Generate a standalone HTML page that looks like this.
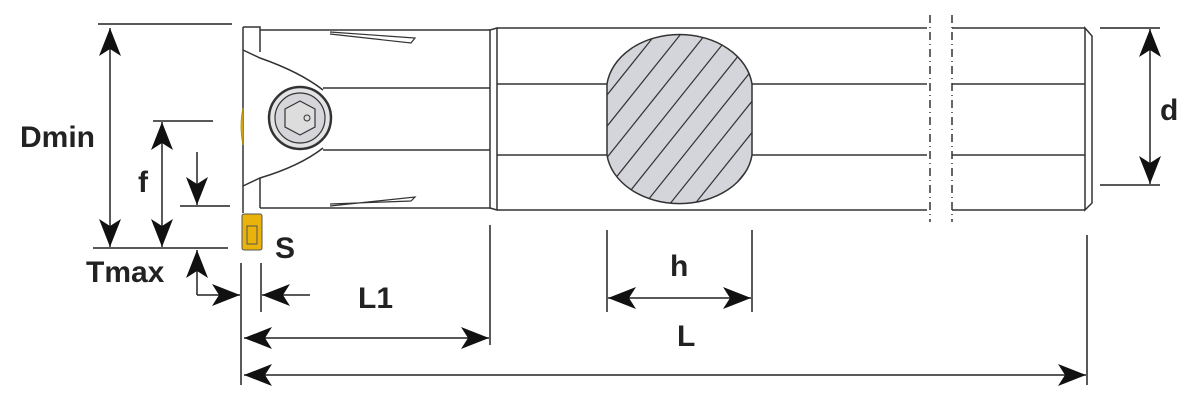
<!DOCTYPE html>
<html><head><meta charset="utf-8"><style>
html,body{margin:0;padding:0;background:#fff;}
svg{display:block;}
text{font-family:"Liberation Sans Narrow","Liberation Sans",sans-serif;font-weight:bold;font-size:30px;fill:#222;}
</style></head><body>
<svg width="1198" height="400" viewBox="0 0 1198 400" xmlns="http://www.w3.org/2000/svg">
<defs>
<marker id="a" viewBox="0 0 28 22" refX="28" refY="11" markerWidth="28" markerHeight="22" markerUnits="userSpaceOnUse" orient="auto-start-reverse"><path d="M0,0 L28,11 L0,22 L7,11 Z" fill="#111"/></marker>
<clipPath id="ec"><path d="M607,84 A73,56 0 0 1 752,84 L752,155 A73,55 0 0 1 607,155 Z"/></clipPath>
</defs>
<g stroke="#333" stroke-width="1.5" fill="none">
<line x1="243" y1="27" x2="243" y2="213"/>
<path d="M243,27 L260,27 L260,52"/>
<path d="M243,50 L260,58 Q300,72 323,90"/>
<path d="M323,148 Q300,166 260,178 L243,186"/>
<line x1="260" y1="178" x2="260" y2="208"/>
<line x1="260" y1="30" x2="490" y2="30"/>
<line x1="323" y1="88" x2="490" y2="88"/>
<line x1="323" y1="150" x2="490" y2="150"/>
<line x1="260" y1="208" x2="490" y2="208"/>
<path d="M330,32 L415,38 L411,43 L330,34" stroke-width="1.2"/>
<path d="M330,206 L415,197 L411,201 L330,204" stroke-width="1.2"/>
<path d="M490,30 L497,28 L497,210 L490,208 Z"/>
<line x1="497" y1="28" x2="927" y2="28"/>
<line x1="497" y1="210" x2="927" y2="210"/>
<line x1="497" y1="84" x2="927" y2="84"/>
<line x1="497" y1="155" x2="927" y2="155"/>
<line x1="952" y1="28" x2="1085" y2="28"/>
<line x1="952" y1="210" x2="1085" y2="210"/>
<line x1="952" y1="84" x2="1085" y2="84"/>
<line x1="952" y1="155" x2="1085" y2="155"/>
<path d="M1085,28 L1092,36 L1092,203 L1085,210 Z"/>
</g>
<g stroke="#333" stroke-width="1.5" stroke-dasharray="8,4,1,4">
<line x1="930" y1="15" x2="930" y2="222"/>
<line x1="952" y1="15" x2="952" y2="222"/>
</g>
<path d="M607,84 A73,56 0 0 1 752,84 L752,155 A73,55 0 0 1 607,155 Z" fill="#d4d5db" stroke="#333" stroke-width="1.5"/>
<g clip-path="url(#ec)" stroke="#333" stroke-width="1.2">
<line x1="540" y1="210" x2="700" y2="10"/><line x1="565" y1="210" x2="725" y2="10"/>
<line x1="590" y1="210" x2="750" y2="10"/><line x1="615" y1="210" x2="775" y2="10"/>
<line x1="640" y1="210" x2="800" y2="10"/><line x1="665" y1="210" x2="825" y2="10"/>
<line x1="690" y1="210" x2="850" y2="10"/><line x1="715" y1="210" x2="875" y2="10"/>
<line x1="515" y1="210" x2="675" y2="10"/>
</g>
<circle cx="300" cy="118" r="31" fill="#e3e3e6" stroke="#333" stroke-width="2.5"/>
<circle cx="300" cy="118" r="25" fill="#d6d6da" stroke="#333" stroke-width="1.2"/>
<polygon points="300,101 315,109 315,127 300,135 285,127 285,109" fill="#ddd" stroke="#333" stroke-width="1.2"/>
<circle cx="307" cy="118" r="3" fill="none" stroke="#333"/>
<rect x="242" y="214" width="20" height="36" rx="2" fill="#e9b30c" stroke="#555" stroke-width="1"/>
<rect x="247" y="226" width="10" height="18" fill="none" stroke="#555" stroke-width="1"/>
<path d="M243,108 Q239,126 243,145 Z" fill="#e9b30c" stroke="#a80" stroke-width="0.8"/>
<g stroke="#222" stroke-width="1.5" fill="none">
<line x1="98" y1="24" x2="232" y2="24"/>
<line x1="93" y1="248" x2="228" y2="248"/>
<line x1="110" y1="28" x2="110" y2="247" marker-start="url(#a)" marker-end="url(#a)"/>
<line x1="153" y1="121" x2="213" y2="121"/>
<line x1="162" y1="122" x2="162" y2="247" marker-start="url(#a)" marker-end="url(#a)"/>
<line x1="180" y1="206" x2="230" y2="206"/>
<line x1="197" y1="152" x2="197" y2="205" marker-end="url(#a)"/>
<line x1="197" y1="295" x2="197" y2="250" marker-end="url(#a)"/>
<line x1="197" y1="295" x2="240" y2="295" marker-end="url(#a)"/>
<line x1="310" y1="295" x2="262" y2="295" marker-end="url(#a)"/>
<line x1="241" y1="263" x2="241" y2="385"/>
<line x1="261" y1="263" x2="261" y2="312"/>
<line x1="490" y1="225" x2="490" y2="345"/>
<line x1="244" y1="338" x2="489" y2="338" marker-start="url(#a)" marker-end="url(#a)"/>
<line x1="1087" y1="235" x2="1087" y2="385"/>
<line x1="244" y1="375" x2="1086" y2="375" marker-start="url(#a)" marker-end="url(#a)"/>
<line x1="607" y1="230" x2="607" y2="312"/>
<line x1="752" y1="230" x2="752" y2="312"/>
<line x1="608" y1="298" x2="751" y2="298" marker-start="url(#a)" marker-end="url(#a)"/>
<line x1="1100" y1="28" x2="1160" y2="28"/>
<line x1="1100" y1="185" x2="1160" y2="185"/>
<line x1="1150" y1="29" x2="1150" y2="184" marker-start="url(#a)" marker-end="url(#a)"/>
</g>
<text x="20" y="147">Dmin</text>
<text x="138" y="192">f</text>
<text x="86" y="282">Tmax</text>
<text x="275" y="258">S</text>
<text x="358" y="308">L1</text>
<text x="670" y="276">h</text>
<text x="677" y="346">L</text>
<text x="1160" y="120">d</text>
</svg>
</body></html>
